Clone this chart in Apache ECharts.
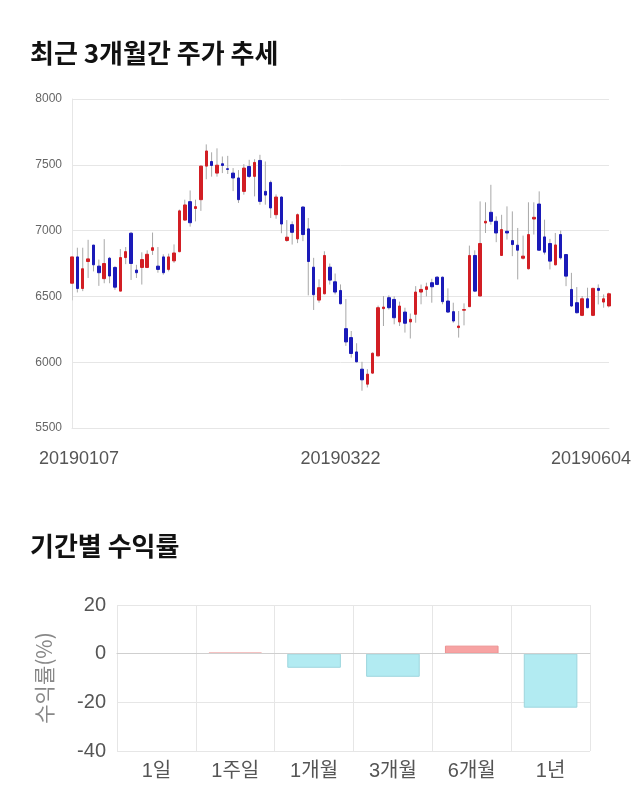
<!DOCTYPE html>
<html><head><meta charset="utf-8">
<script src="https://cdn.jsdelivr.net/npm/echarts@6.0.0/dist/echarts.min.js"></script>
<style>html,body{margin:0;padding:0;background:#fff}#c{width:640px;height:810px}</style>
</head><body><div id="c"></div>
<script>
const dates = ['20190107','20190108','20190109','20190110','20190111','20190114','20190115','20190116','20190117','20190118',
'20190121','20190122','20190123','20190124','20190125','20190128','20190129','20190130','20190131','20190201',
'20190207','20190208','20190211','20190212','20190213','20190214','20190215','20190218','20190219','20190220',
'20190221','20190222','20190225','20190226','20190227','20190228','20190304','20190305','20190306','20190307',
'20190308','20190311','20190312','20190313','20190314','20190315','20190318','20190319','20190320','20190321',
'20190322','20190325','20190326','20190327','20190328','20190329','20190401','20190402','20190403','20190404',
'20190405','20190408','20190409','20190410','20190411','20190412','20190415','20190416','20190417','20190418',
'20190419','20190422','20190423','20190424','20190425','20190426','20190429','20190430','20190502','20190503',
'20190507','20190508','20190509','20190510','20190513','20190514','20190515','20190516','20190517','20190520',
'20190521','20190522','20190523','20190524','20190527','20190528','20190529','20190530','20190531','20190603',
'20190604'];
const openP = [6600,6800,6560,6765,6890,6730,6635,6790,6720,6540,
6795,6980,6700,6720,6720,6850,6730,6800,6705,6770,
6840,7080,7220,7168,7235,7490,7525,7437,7508,7470,
7437,7400,7298,7487,7412,7533,7298,7366,7121,7255,
6925,7045,6937,7179,7013,6722,6472,6520,6722,6611,
6545,6255,6187,6078,5947,5833,5917,6048,6407,6490,
6477,6306,6381,6306,6364,6533,6553,6604,6646,6646,
6465,6384,6263,6395,6422,6811,6503,7058,7139,7071,
6811,6995,6924,6889,6790,6710,7088,7202,6952,6902,
6740,6970,6818,6553,6452,6356,6482,6356,6561,6457,
6427];
const closeP = [6800,6560,6710,6785,6740,6680,6750,6655,6570,6795,
6840,6750,6680,6780,6820,6870,6705,6680,6800,6830,
7150,7195,7060,7182,7490,7605,7495,7497,7495,7465,
7400,7235,7475,7412,7518,7222,7270,7172,7255,7050,
6950,6987,7121,6970,6765,6513,6566,6811,6624,6533,
6444,6154,6066,6003,5866,5909,6068,6414,6419,6414,
6338,6427,6296,6326,6533,6553,6573,6573,6591,6460,
6381,6313,6275,6400,6811,6540,6902,7071,7071,6982,
7008,6982,6894,6851,6806,6970,7101,6851,6836,6768,
6891,6793,6654,6427,6376,6482,6414,6561,6546,6482,
6520];
const lowP = [6470,6530,6540,6640,6690,6580,6600,6600,6550,6540,
6745,6625,6640,6590,6715,6815,6680,6665,6690,6755,
6835,7075,7030,7070,7150,7390,7410,7410,7437,7430,
7300,7210,7273,7400,7260,7197,7197,7096,7090,6980,
6915,6894,6905,6920,6508,6397,6452,6515,6590,6515,
6440,6124,6035,5998,5783,5808,5910,6045,6275,6400,
6288,6275,6225,6180,6300,6440,6500,6452,6585,6440,
6375,6300,6187,6280,6420,6535,6500,6982,7045,6912,
6810,6932,6806,6629,6780,6705,6970,6845,6818,6705,
6735,6780,6578,6420,6370,6350,6410,6350,6439,6414,
6414];
const highP = [6800,6870,6870,6930,6890,6780,6935,6800,6730,6860,
6875,6990,6740,6835,6850,6985,6875,6820,6825,6895,
7160,7235,7305,7235,7495,7655,7595,7625,7563,7568,
7475,7460,7505,7538,7543,7576,7525,7380,7275,7260,
7080,7070,7130,7185,7096,6793,6630,6843,6750,6674,
6591,6480,6237,6144,6003,5947,6075,6430,6503,6508,
6500,6460,6414,6370,6578,6590,6604,6634,6654,6650,
6561,6452,6389,6447,6886,6850,7222,7215,7348,7108,
7120,7184,7146,7020,6962,7215,7215,7298,7083,6937,
6982,7000,6820,6679,6571,6503,6566,6566,6591,6515,
6530];
const priceMin = 5500, priceMax = 8000, priceStep = 500;
const periods = ['1일','1주일','1개월','3개월','6개월','1년'];
const returns = [0, 0.4, -5.8, -9.5, 3.3, -22.2];
const retMin = -40, retMax = 20, retStep = 20;

const NUM = "'Liberation Sans','Noto Sans CJK KR',sans-serif";
const KR = "'Noto Sans CJK KR',sans-serif";
const UP = '#d21e24', DOWN = '#1a1ab8';

const chart = echarts.init(document.getElementById('c'));
const wickData = dates.map((d, i) => [i, lowP[i], highP[i]]);
const bodyData = dates.map((d, i) => [openP[i], closeP[i], Math.min(openP[i], closeP[i]), Math.max(openP[i], closeP[i])]);
const barData = returns.map(v => ({
  value: v,
  itemStyle: v === 0 ? {color: 'rgba(0,0,0,0)', borderWidth: 0}
    : (v > 0 ? {color: '#f7a3a3', borderColor: '#ec9090'} : {color: '#b2ebf2', borderColor: '#9ed6de'})
}));
const lastIdx = dates.length - 1;

chart.setOption({
  animation: false,
  title: [
    {text: '최근 3개월간 주가 추세', left: 25, top: 35, textStyle: {fontFamily: KR, fontSize: 26, fontWeight: 'bold', color: '#111'}},
    {text: '기간별 수익률', left: 25, top: 528, textStyle: {fontFamily: KR, fontSize: 26, fontWeight: 'bold', color: '#111'}}
  ],
  grid: [
    {left: 72, right: 31, top: 99, bottom: 382},
    {left: 117, right: 50, top: 605, bottom: 59}
  ],
  xAxis: [
    {
      type: 'category', gridIndex: 0, data: dates, boundaryGap: false,
      axisLine: {show: true, lineStyle: {color: '#e6e6e6'}},
      axisTick: {show: false},
      splitLine: {show: false},
      axisLabel: {
        interval: (idx) => idx % 50 === 0,
        margin: 22, color: '#555', fontSize: 18, fontFamily: NUM,
        formatter: (v, idx) => idx === 0 ? '{a|' + v + '}' : (idx === lastIdx ? '{c|' + v + '}' : '{b|' + v + '}'),
        rich: {
          a: {padding: [0, 0, 0, 14], fontSize: 18, fontFamily: NUM, color: '#555'},
          b: {fontSize: 18, fontFamily: NUM, color: '#555'},
          c: {padding: [0, 36, 0, 0], fontSize: 18, fontFamily: NUM, color: '#555'}
        }
      }
    },
    {
      type: 'category', gridIndex: 1, data: periods, boundaryGap: true,
      axisLine: {show: true, lineStyle: {color: '#cccccc'}},
      axisTick: {show: true, length: 9, lineStyle: {color: '#e6e6e6'}},
      splitLine: {show: true, lineStyle: {color: '#e6e6e6'}},
      axisLabel: {margin: 10, color: '#555', fontSize: 20, fontFamily: NUM}
    }
  ],
  yAxis: [
    {
      type: 'value', gridIndex: 0, min: priceMin, max: priceMax, interval: priceStep,
      axisLine: {show: true, lineStyle: {color: '#e6e6e6'}},
      axisTick: {show: false},
      splitLine: {show: true, lineStyle: {color: '#e6e6e6'}},
      axisLabel: {margin: 10, color: '#666', fontSize: 12, fontFamily: NUM, formatter: v => String(v)}
    },
    {
      type: 'value', gridIndex: 1, min: retMin, max: retMax, interval: retStep,
      name: '수익률(%)', nameLocation: 'middle', nameGap: 62, nameRotate: 90,
      nameTextStyle: {color: '#888', fontSize: 21, fontFamily: KR},
      axisLine: {show: false},
      axisTick: {show: false},
      splitLine: {show: true, lineStyle: {color: '#e6e6e6'}},
      axisLabel: {margin: 11, color: '#555', fontSize: 20, fontFamily: NUM}
    }
  ],
  series: [
    {
      type: 'custom', xAxisIndex: 0, yAxisIndex: 0, data: wickData, clip: true, z: 1,
      encode: {x: 0, y: [1, 2]},
      renderItem: (params, api) => {
        const x = api.value(0);
        const lo = api.coord([x, api.value(1)]);
        const hi = api.coord([x, api.value(2)]);
        return {type: 'line', shape: {x1: lo[0], y1: lo[1], x2: hi[0], y2: hi[1]}, style: {stroke: '#a8a8a8', lineWidth: 1}};
      }
    },
    {
      type: 'candlestick', xAxisIndex: 0, yAxisIndex: 0, data: bodyData, barWidth: 3, z: 2,
      itemStyle: {color: UP, color0: DOWN, borderColor: UP, borderColor0: DOWN, borderWidth: 1}
    },
    {
      type: 'bar', xAxisIndex: 1, yAxisIndex: 1, data: barData, barWidth: '68%',
      itemStyle: {borderWidth: 1},
      markLine: {
        silent: true, symbol: 'none', label: {show: false},
        lineStyle: {color: '#cfcfcf', type: 'solid', width: 1},
        data: [{yAxis: 0}]
      }
    }
  ]
});
</script></body></html>
